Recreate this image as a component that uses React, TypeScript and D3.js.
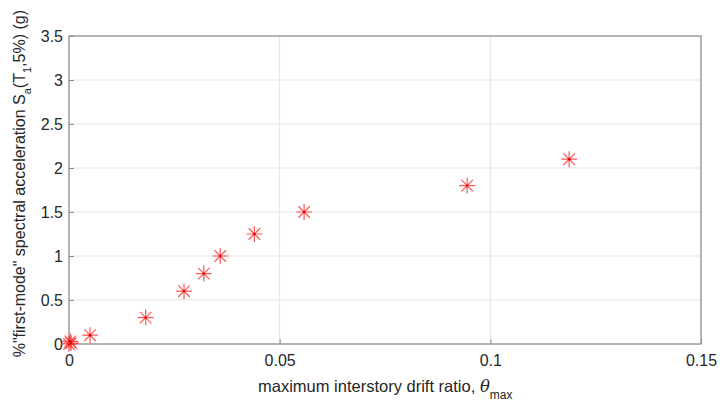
import React, { useRef, useEffect } from 'react';
import * as d3 from 'd3';

// drift ratio (x) vs Sa (y)
const driftValues = [0, 0.0005, 0.0003, 0.005, 0.0182, 0.0273, 0.032, 0.0359, 0.044, 0.0558, 0.0945, 0.1187];
const saValues = [0, 0.01, 0.03, 0.1, 0.3, 0.6, 0.8, 1.0, 1.25, 1.5, 1.8, 2.1];
const xTicks = [0, 0.05, 0.1, 0.15];
const yTicks = [0, 0.5, 1, 1.5, 2, 2.5, 3, 3.5];

const App = () => {
  const svgRef = useRef<SVGSVGElement>(null);

  useEffect(() => {
    const svg = d3.select(svgRef.current)
      .attr('width', 720)
      .attr('height', 401)
      .style('position', 'absolute')
      .style('left', '0px')
      .style('top', '0px')
      .style('display', 'block')
      .style('background', '#fff');

    svg.selectAll('*').remove();

    const left = 69, right = 701, top = 36, bottom = 344;
    const font = 'Liberation Sans, Arial, sans-serif';

    const x = d3.scaleLinear().domain([0, 0.15]).range([left, right]);
    const y = d3.scaleLinear().domain([0, 3.5]).range([bottom, top]);

    // Grid
    svg.append('g')
      .selectAll('line')
      .data(yTicks.slice(1, -1))
      .enter()
      .append('line')
      .attr('x1', left).attr('x2', right)
      .attr('y1', d => y(d)).attr('y2', d => y(d))
      .attr('stroke', '#e3e3e3').attr('stroke-width', 1);

    svg.append('g')
      .selectAll('line')
      .data(xTicks.slice(1, -1))
      .enter()
      .append('line')
      .attr('y1', top).attr('y2', bottom)
      .attr('x1', d => x(d)).attr('x2', d => x(d))
      .attr('stroke', '#e3e3e3').attr('stroke-width', 1);

    // Axes (ticks inward)
    const xAxis = d3.axisBottom(x).tickValues(xTicks).tickSize(-5).tickPadding(11)
      .tickFormat(d => String(d));
    const yAxis = d3.axisLeft(y).tickValues(yTicks).tickSize(-5).tickPadding(6)
      .tickFormat(d => String(d));

    const gx = svg.append('g').attr('transform', `translate(0, ${bottom})`).call(xAxis);
    const gy = svg.append('g').attr('transform', `translate(${left}, 0)`).call(yAxis);

    [gx, gy].forEach(g => {
      g.select('.domain').remove();
      g.selectAll('line').attr('stroke', '#8c8c8c');
      g.selectAll('text')
        .attr('fill', '#262626')
        .style('font-family', font)
        .style('font-size', '16px');
    });

    // Box
    svg.append('rect')
      .attr('x', left).attr('y', top)
      .attr('width', right - left).attr('height', bottom - top)
      .attr('fill', 'none')
      .attr('stroke', '#8c8c8c')
      .attr('stroke-width', 1.3);

    // Asterisk markers
    const r = 8;
    const d45 = r * 0.72;
    const pts = driftValues.map((v, i) => [v, saValues[i]]);
    const marks = svg.append('g')
      .selectAll('g')
      .data(pts)
      .enter()
      .append('g')
      .attr('transform', d => `translate(${x(d[0])}, ${y(d[1])})`);

    marks.append('path')
      .attr('d', `M${-r},0H${r}M0,${-r}V${r}M${-d45},${-d45}L${d45},${d45}M${-d45},${d45}L${d45},${-d45}`)
      .attr('stroke', '#ff2020')
      .attr('stroke-opacity', 0.75)
      .attr('stroke-width', 1.2)
      .attr('fill', 'none');

    marks.append('circle')
      .attr('r', 1.2)
      .attr('fill', '#d00000');

    // X label
    const xl = svg.append('text')
      .attr('x', 258)
      .attr('y', 392)
      .attr('fill', '#262626')
      .style('font-family', font)
      .style('font-size', '16.5px');
    xl.append('tspan').text('maximum interstory drift ratio, ');
    xl.append('tspan').text('θ').style('font-family', 'DejaVu Serif, serif').style('font-style', 'italic');
    xl.append('tspan').text('max').attr('dy', 7).style('font-size', '12px');

    // Y label
    const yl = svg.append('text')
      .attr('transform', `translate(25, 10) rotate(-90)`)
      .attr('text-anchor', 'end')
      .attr('fill', '#262626')
      .style('font-family', font)
      .style('font-size', '16px');
    yl.append('tspan').text('%"first-mode" spectral acceleration S');
    yl.append('tspan').text('a').attr('dy', 6).style('font-size', '11px');
    yl.append('tspan').text('(T').attr('dy', -6);
    yl.append('tspan').text('1').attr('dy', 6).style('font-size', '11px');
    yl.append('tspan').text(',5%) (g)').attr('dy', -6);
  }, []);

  return <svg ref={svgRef}></svg>;
};

export default App;
